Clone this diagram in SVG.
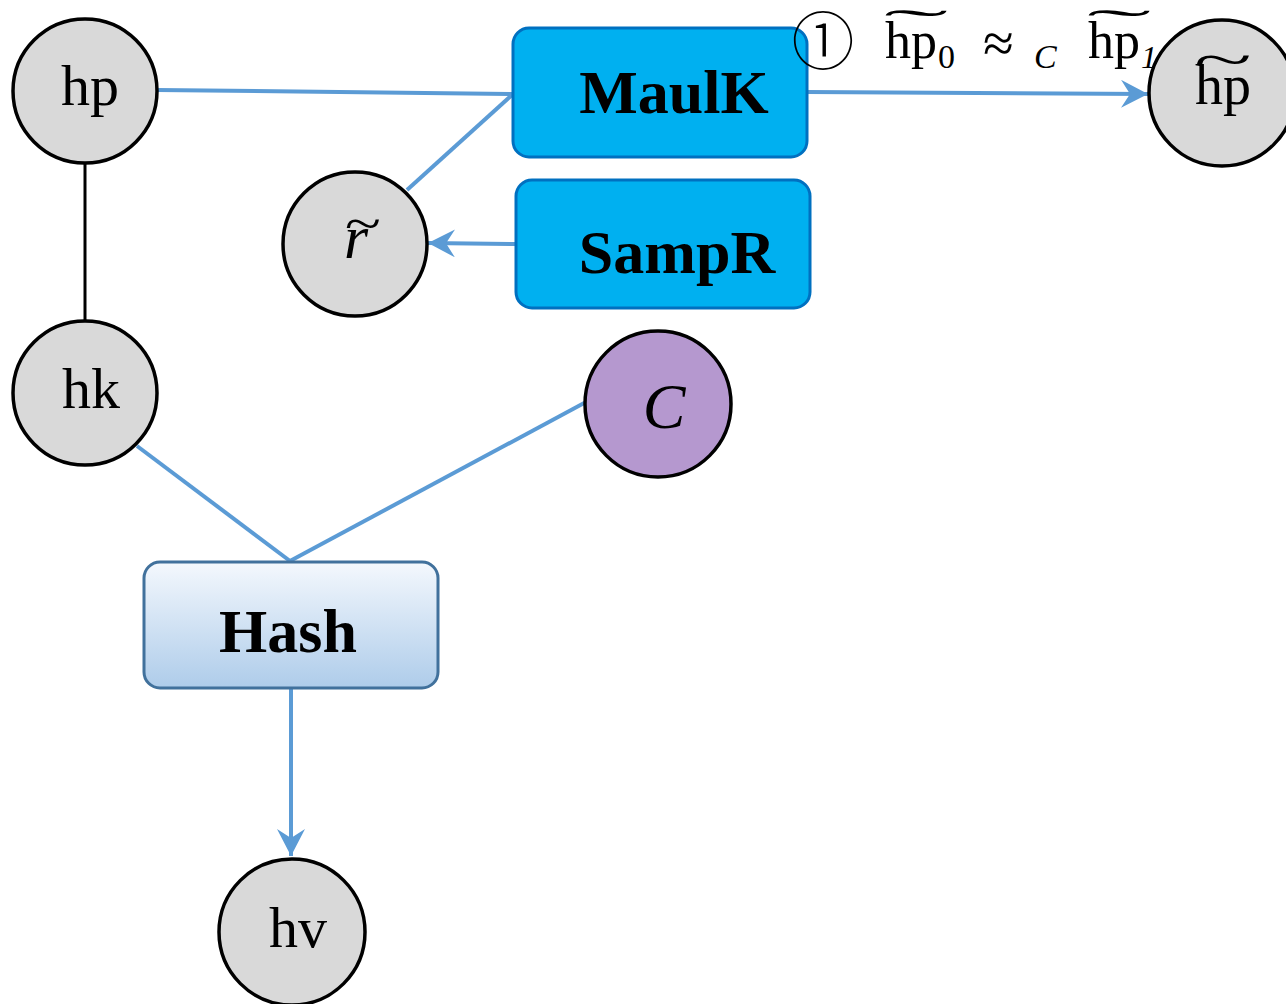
<svg xmlns="http://www.w3.org/2000/svg" width="1286" height="1004" viewBox="0 0 1286 1004">
<style>
.node{fill:#D9D9D9;stroke:#000;stroke-width:3.5}
.purple{fill:#B598CF;stroke:#000;stroke-width:3.5}
.blue{fill:#00B0F0;stroke:#0070C0;stroke-width:3}
.hash{fill:url(#hashGrad);stroke:#41719C;stroke-width:3}
.conn{stroke:#5B9BD5;stroke-width:4;fill:none}
.blk{stroke:#000;stroke-width:3;fill:none}
.t{font-family:"Liberation Serif","Times New Roman",serif;fill:#000}
.b{font-family:"Liberation Serif","Times New Roman",serif;font-weight:bold;fill:#000}
.i{font-family:"Liberation Serif","Times New Roman",serif;font-style:italic;fill:#000}
</style>
<defs>
<linearGradient id="hashGrad" x1="0" y1="0" x2="0" y2="1">
<stop offset="0" stop-color="#F4F8FD"/>
<stop offset="1" stop-color="#AECCEA"/>
</linearGradient>
<marker id="arr" markerUnits="userSpaceOnUse" markerWidth="30" markerHeight="30" refX="27" refY="14" orient="auto">
<path d="M0,0 L27,14 L0,28 L9,14 z" fill="#5B9BD5"/>
</marker>
</defs>

<g id="connectors">
<line class="blk" x1="85" y1="163" x2="85" y2="321"/>
<line class="conn" x1="157" y1="90" x2="513" y2="94"/>
<line class="conn" x1="513" y1="94" x2="407" y2="190"/>
<line class="conn" x1="807" y1="92" x2="1148" y2="94" marker-end="url(#arr)"/>
<line class="conn" x1="516" y1="244" x2="428" y2="243" marker-end="url(#arr)"/>
<line class="conn" x1="137" y1="446" x2="290" y2="561"/>
<line class="conn" x1="586" y1="402" x2="290" y2="561"/>
<line class="conn" x1="291" y1="689" x2="291" y2="856" marker-end="url(#arr)"/>
</g>

<g id="node-hp">
<circle class="node" cx="85" cy="91" r="72"/>
<text class="t" x="90" y="105" font-size="58" text-anchor="middle">hp</text>
</g>

<g id="node-hk">
<circle class="node" cx="85" cy="393" r="72"/>
<text class="t" x="91" y="408" font-size="58" text-anchor="middle">hk</text>
</g>

<g id="node-r">
<circle class="node" cx="355" cy="244" r="72"/>
<text class="i" font-size="62"><tspan x="344" y="258">r</tspan><tspan class="t" x="344" y="240" font-size="50" textLength="36" lengthAdjust="spacingAndGlyphs">~</tspan></text>
</g>

<g id="node-C">
<circle class="purple" cx="658" cy="404" r="73"/>
<text class="i" x="664" y="428" font-size="64" text-anchor="middle">C</text>
</g>

<g id="node-hv">
<circle class="node" cx="292" cy="932" r="73"/>
<text class="t" x="298" y="947" font-size="58" text-anchor="middle">hv</text>
</g>

<g id="node-hp-tilde">
<circle class="node" cx="1222" cy="93" r="73"/>
<text class="t" font-size="56"><tspan x="1195" y="104">hp</tspan><tspan x="1194" y="76" font-size="50" textLength="58" lengthAdjust="spacingAndGlyphs">~</tspan></text>
</g>

<g id="node-MaulK">
<rect class="blue" x="513" y="28" width="294" height="129" rx="16"/>
<text class="b" x="674" y="113" font-size="62" text-anchor="middle">MaulK</text>
</g>

<g id="node-SampR">
<rect class="blue" x="516" y="180" width="294" height="128" rx="16"/>
<text class="b" x="677" y="273" font-size="62" text-anchor="middle">SampR</text>
</g>

<g id="node-Hash">
<rect class="hash" x="144" y="562" width="294" height="126" rx="16"/>
<text class="b" x="288" y="652" font-size="62" text-anchor="middle">Hash</text>
</g>

<g id="label">
<text x="823" y="64" font-size="63" font-weight="300" text-anchor="middle" font-family="'Noto Sans CJK SC','Noto Sans CJK JP',sans-serif">①</text>
<text class="t" font-size="52"><tspan x="885" y="58">hp</tspan><tspan x="884" y="40" font-size="44" textLength="64" lengthAdjust="spacingAndGlyphs">˜</tspan><tspan x="938" y="68" font-size="34">0</tspan><tspan x="983" y="62" font-size="56">≈</tspan><tspan class="i" x="1034" y="68" font-size="34">C</tspan><tspan x="1088" y="58">hp</tspan><tspan x="1087" y="40" font-size="44" textLength="64" lengthAdjust="spacingAndGlyphs">˜</tspan><tspan class="i" x="1141" y="68" font-size="32">1</tspan></text>
</g>
</svg>
